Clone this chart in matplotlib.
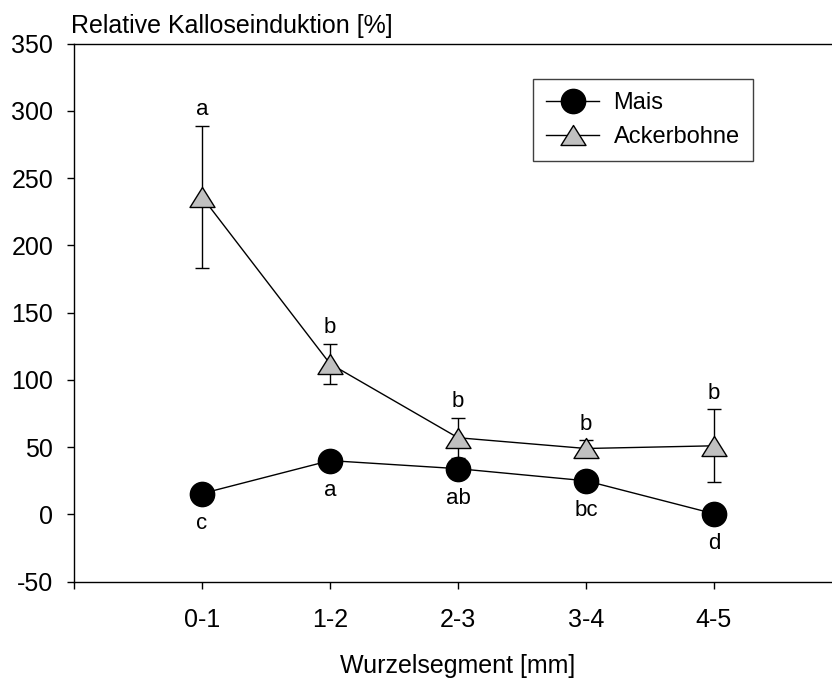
import matplotlib
matplotlib.use("Agg")
import matplotlib.pyplot as plt
from matplotlib.path import Path

plt.rcParams["font.family"] = ["Liberation Sans", "DejaVu Sans"]
plt.rcParams["axes.unicode_minus"] = False

segments = ["0-1", "1-2", "2-3", "3-4", "4-5"]
mais = [15.5, 40, 34, 25, 0.5]
mais_letters = ["c", "a", "ab", "bc", "d"]
acker = [236, 112, 57, 49, 51]
acker_err = [53, 15, 15, 6, 27]
acker_letters = ["a", "b", "b", "b", "b"]

x = list(range(1, len(segments) + 1))

# wide, flat triangle like the original
tri = Path([(-1.25, -1), (1.25, -1), (0, 1), (-1.25, -1)],
           [Path.MOVETO, Path.LINETO, Path.LINETO, Path.CLOSEPOLY])

fig = plt.figure(figsize=(8.32, 6.79), dpi=100)
ax = fig.add_axes([74 / 832, 1 - 581.7 / 679, 768 / 832, 538.2 / 679])

ax.errorbar(x, acker, yerr=acker_err, fmt="none", ecolor="black",
            elinewidth=1, capsize=5, capthick=1, zorder=2)
ax.plot(x, acker, color="black", lw=1, marker=tri, markersize=18,
        markerfacecolor="#c0c0c0", markeredgecolor="black",
        markeredgewidth=1, label="Ackerbohne", zorder=3)
ax.plot(x, mais, color="black", lw=1, marker="o", markersize=17.5,
        markerfacecolor="black", markeredgecolor="black",
        label="Mais", zorder=4)

for xi, yi, lab in zip(x, mais, mais_letters):
    ax.annotate(lab, (xi, yi), xytext=(0, -30), textcoords="offset pixels",
                ha="center", va="center", fontsize=16)
for xi, yi, e, lab in zip(x, acker, acker_err, acker_letters):
    ax.annotate(lab, (xi, yi + e), xytext=(0, 16), textcoords="offset pixels",
                ha="center", va="center", fontsize=16)

ax.set_xlim(0, 6)
ax.set_ylim(-50, 350)
ax.set_xticks(range(0, 7))
ax.set_xticklabels([""] + segments + [""])
ax.set_yticks(range(-50, 351, 50))
ax.tick_params(direction="out", length=5, width=1, labelsize=18)
ax.tick_params(axis="x", pad=14)
ax.tick_params(axis="y", pad=10)
for sp in ax.spines.values():
    sp.set_linewidth(1)

fig.text(71 / 832, 1 - 26 / 679, "Relative Kalloseinduktion [%]",
         fontsize=18, ha="left", va="center")
ax.set_xlabel("Wurzelsegment [mm]", fontsize=18)
ax.xaxis.set_label_coords(0.5, -0.135)

h, l = ax.get_legend_handles_labels()
leg = ax.legend(h[::-1], l[::-1], loc="upper left",
                bbox_to_anchor=(0.598, 0.934), fontsize=17,
                handlelength=2.25, handletextpad=0.6, labelspacing=0.5,
                borderpad=0.55, borderaxespad=0, fancybox=False, framealpha=1)
leg.get_frame().set_edgecolor("#404040")
leg.get_frame().set_linewidth(1)

fig.savefig("out.png", dpi=100)
